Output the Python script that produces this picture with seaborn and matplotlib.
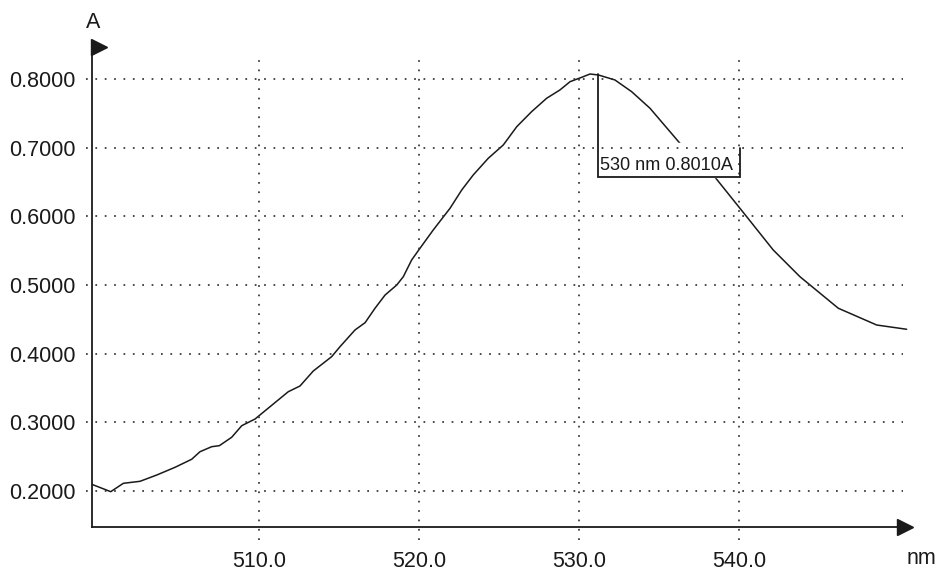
import matplotlib
matplotlib.use("Agg")
import matplotlib.pyplot as plt
import seaborn as sns

sns.set_style("white")
plt.rcParams["font.family"] = ["Liberation Sans", "DejaVu Sans"]

# Absorbance spectrum
wavelength_nm = [499.54, 500.73, 501.52, 502.56, 503.61, 504.75, 505.79, 506.31, 507.04,
                 507.52, 508.29, 508.92, 509.75, 510.69, 511.83, 512.56, 513.39, 514.54,
                 515.06, 516.00, 516.63, 517.25, 517.88, 518.61, 519.02, 519.54, 520.06,
                 520.89, 521.94, 522.67, 523.39, 524.33, 525.27, 526.11, 527.04, 527.98,
                 528.81, 529.44, 530.17, 530.69, 531.21, 532.25, 533.29, 534.44, 536.31,
                 538.39, 540.48, 542.14, 543.81, 546.21, 548.61, 550.48]
absorbance = [0.2098, 0.1990, 0.2112, 0.2141, 0.2233, 0.2345, 0.2462, 0.2572, 0.2645,
              0.2660, 0.2782, 0.2951, 0.3048, 0.3228, 0.3446, 0.3529, 0.3747, 0.3956,
              0.4101, 0.4345, 0.4451, 0.4661, 0.4854, 0.5000, 0.5121, 0.5364, 0.5534,
              0.5801, 0.6117, 0.6383, 0.6602, 0.6845, 0.7039, 0.7305, 0.7524, 0.7719,
              0.7840, 0.7960, 0.8024, 0.8072, 0.8058, 0.7985, 0.7815, 0.7573, 0.7063,
              0.6602, 0.5995, 0.5510, 0.5121, 0.4661, 0.4417, 0.4355]

x_ticks = [510.0, 520.0, 530.0, 540.0]
y_ticks = [0.2, 0.3, 0.4, 0.5, 0.6, 0.7, 0.8]
peak_label = "530 nm 0.8010A"
peak_nm = 531.19
peak_A = 0.8072

fig = plt.figure(figsize=(9.36, 5.72), dpi=100)
ax = fig.add_axes([0.0983, 0.0787, 0.8739, 0.8427])
x_min, x_max = 499.56, 550.69
y_min, y_max = 0.1476, 0.8495
ax.set_xlim(x_min, x_max)
ax.set_ylim(y_min, y_max)

# dotted grid, slightly overhanging the axes like the instrument printout
grid_kw = dict(color="#333333", lw=1.25, ls=(0, (1, 4.4)), clip_on=False, zorder=4)
for yv in y_ticks:
    ax.plot([499.19, 550.25], [yv, yv], **grid_kw)
for xv in x_ticks:
    ax.plot([xv, xv], [0.1286, 0.8306], **grid_kw)

sns.lineplot(x=wavelength_nm, y=absorbance, ax=ax, color="#1a1a1a", lw=1.1,
             sort=False, zorder=2)

# peak label box with bracket
box_left, box_right = peak_nm, 540.06
box_bottom, box_top, bracket_top = 0.6573, 0.7068, 0.6995
ax.fill_between([box_left, box_right], box_bottom, box_top, color="white", zorder=3)
ax.plot([box_left, box_left, box_right, box_right],
        [peak_A, box_bottom, box_bottom, bracket_top],
        color="#1a1a1a", lw=1.3, zorder=5, solid_joinstyle="miter")
ax.text(box_left + 0.1, (box_bottom + bracket_top) / 2 - 0.005, peak_label,
        fontsize=13.1, ha="left", va="center", color="#1a1a1a", zorder=6)

ax.set_xticks(x_ticks)
ax.set_xticklabels([f"{v:.1f}" for v in x_ticks])
ax.set_yticks(y_ticks)
ax.set_yticklabels([f"{v:.4f}" for v in y_ticks])
ax.tick_params(axis="both", length=0, labelsize=15.5, colors="#1a1a1a")
ax.tick_params(axis="x", pad=17)
ax.tick_params(axis="y", pad=12)

for side in ["top", "right"]:
    ax.spines[side].set_visible(False)
for side in ["left", "bottom"]:
    ax.spines[side].set_color("#1a1a1a")
    ax.spines[side].set_linewidth(1.3)

# arrow heads
ax.plot([1.0 - 0.006], [0.0], marker=">", markersize=11, color="#1a1a1a",
        transform=ax.transAxes, clip_on=False, zorder=6)
ax.plot([0.008], [0.996], marker=">", markersize=11, color="#1a1a1a",
        transform=ax.transAxes, clip_on=False, zorder=6)

fig.text(93.5 / 936, 1 - 22 / 572, "A", fontsize=15.5, ha="center", va="center", color="#1a1a1a")
fig.text(921 / 936, 1 - 559 / 572, "nm", fontsize=15.5, ha="center", va="center", color="#1a1a1a")

fig.savefig("out.png", dpi=100)
